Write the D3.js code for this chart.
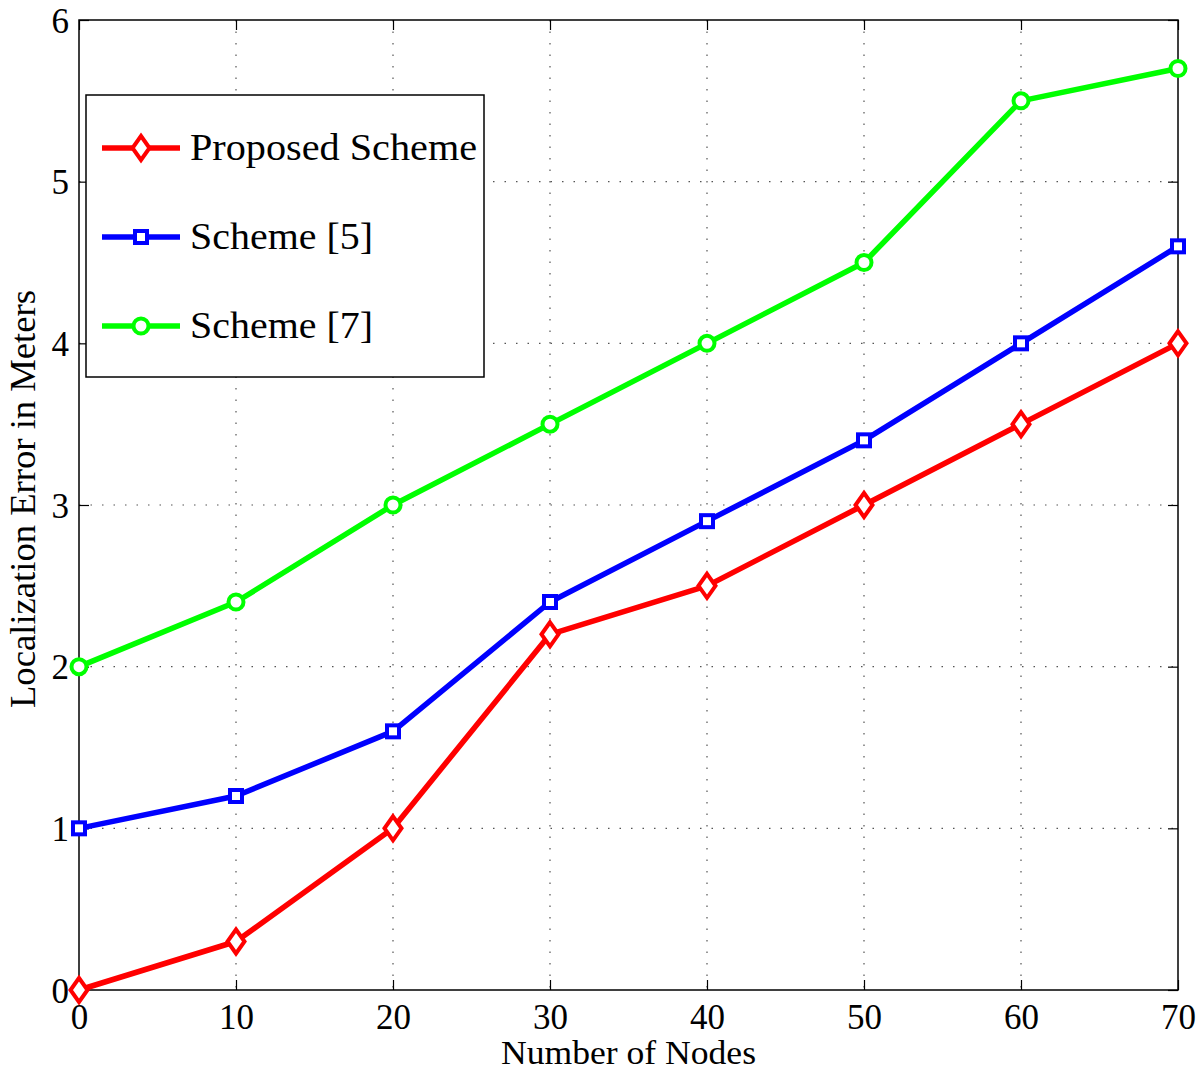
<!DOCTYPE html>
<html><head><meta charset="utf-8">
<script src="https://cdn.jsdelivr.net/npm/d3@7"></script>
<style>body{margin:0;background:#fff}svg{display:block}text{font-family:"Liberation Serif","DejaVu Serif",serif;fill:#000}</style>
</head><body>
<svg id="c" width="1200" height="1078"></svg>
<script>
const nodes=[0,10,20,30,40,50,60,70];
const proposed=[0,0.3,1,2.2,2.5,3,3.5,4];
const scheme5=[1,1.2,1.6,2.4,2.9,3.4,4,4.6];
const scheme7=[2,2.4,3,3.5,4,4.5,5.5,5.7];
const xTicks=[0,10,20,30,40,50,60,70];
const yTicks=[0,1,2,3,4,5,6];
const seriesNames=["Proposed Scheme","Scheme [5]","Scheme [7]"];
const colors=["#ff0000","#0000ff","#00ff00"];
const markers=["diamond","square","circle"];

const L=79,T=20,R=1178,B=990;
const svg=d3.select("#c");
const x=d3.scaleLinear().domain([0,70]).range([L,R]);
const y=d3.scaleLinear().domain([0,6]).range([B,T]);

// grid
const g=svg.append("g");
g.selectAll(".gx").data(xTicks.slice(1,-1)).enter().append("line")
 .attr("x1",d=>x(d)).attr("x2",d=>x(d)).attr("y1",T).attr("y2",B)
 .attr("stroke","#555").attr("stroke-width",1.2).attr("stroke-dasharray","1.5,10");
g.selectAll(".gy").data(yTicks.slice(1,-1)).enter().append("line")
 .attr("y1",d=>y(d)).attr("y2",d=>y(d)).attr("x1",L).attr("x2",R)
 .attr("stroke","#555").attr("stroke-width",1.2).attr("stroke-dasharray","1.5,10");

// axes box
svg.append("rect").attr("x",L).attr("y",T).attr("width",R-L).attr("height",B-T)
 .attr("fill","none").attr("stroke","#000").attr("stroke-width",1.5);

const xAxis=d3.axisBottom(x).tickValues(xTicks).tickSize(-10).tickFormat(d3.format("d"));
const xa=svg.append("g").attr("transform",`translate(0,${B})`).call(xAxis);
xa.select(".domain").remove();
xa.selectAll("line").attr("stroke","#000").attr("stroke-width",1.2);
xa.selectAll("text").attr("font-size",35).attr("font-family","Liberation Serif").attr("y",39).attr("dy",0).attr("fill","#000");
const xaT=svg.append("g").attr("transform",`translate(0,${T})`).call(d3.axisTop(x).tickValues(xTicks).tickSize(-10).tickFormat(""));
xaT.select(".domain").remove();xaT.selectAll("line").attr("stroke","#000").attr("stroke-width",1.2);

const yAxis=d3.axisLeft(y).tickValues(yTicks).tickSize(-10).tickFormat(d3.format("d"));
const ya=svg.append("g").attr("transform",`translate(${L},0)`).call(yAxis);
ya.select(".domain").remove();
ya.selectAll("line").attr("stroke","#000").attr("stroke-width",1.2);
ya.selectAll("text").attr("font-size",35).attr("font-family","Liberation Serif").attr("x",-10).attr("dy",0).attr("y",12).attr("fill","#000");
const yaR=svg.append("g").attr("transform",`translate(${R},0)`).call(d3.axisRight(y).tickValues(yTicks).tickSize(-10).tickFormat(""));
yaR.select(".domain").remove();yaR.selectAll("line").attr("stroke","#000").attr("stroke-width",1.2);

svg.append("text").attr("x",(L+R)/2).attr("y",1064).attr("text-anchor","middle").attr("font-size",34)
 .attr("textLength",255).attr("lengthAdjust","spacingAndGlyphs").text("Number of Nodes");
svg.append("text").attr("transform",`translate(35,${499}) rotate(-90)`).attr("text-anchor","middle").attr("font-size",35)
 .attr("textLength",418).attr("lengthAdjust","spacingAndGlyphs").text("Localization Error in Meters");

const data=[proposed,scheme5,scheme7];
const line=d3.line().x((d,i)=>x(nodes[i])).y(d=>y(d));
function drawMarker(sel,type,color){
 if(type==="diamond") sel.append("path").attr("d","M0,-12L8.5,0L0,12L-8.5,0Z");
 else if(type==="square") sel.append("rect").attr("x",-6).attr("y",-6).attr("width",12).attr("height",12);
 else sel.append("circle").attr("r",7.5);
 sel.selectAll("path,rect,circle").attr("fill","#fff").attr("stroke",color).attr("stroke-width",4);
}
data.forEach((s,k)=>{
 svg.append("path").datum(s).attr("d",line).attr("fill","none").attr("stroke",colors[k]).attr("stroke-width",5.5).attr("stroke-linejoin","round");
 s.forEach((v,i)=>{
  const m=svg.append("g").attr("transform",`translate(${x(nodes[i])},${y(v)})`);
  drawMarker(m,markers[k],colors[k]);
 });
});

// legend
const lg=svg.append("g");
lg.append("rect").attr("x",86).attr("y",95).attr("width",398).attr("height",282).attr("fill","#fff").attr("stroke","#000").attr("stroke-width",1.5);
const rowsY=[148,237,326];
const legendLens=[287,183,183];
seriesNames.forEach((n,k)=>{
 lg.append("line").attr("x1",102).attr("x2",180).attr("y1",rowsY[k]).attr("y2",rowsY[k]).attr("stroke",colors[k]).attr("stroke-width",5.5);
 const m=lg.append("g").attr("transform",`translate(141,${rowsY[k]})`);
 drawMarker(m,markers[k],colors[k]);
 lg.append("text").attr("x",190).attr("y",rowsY[k]+12).attr("font-size",38)
  .attr("textLength",legendLens[k]).attr("lengthAdjust","spacingAndGlyphs").text(n);
});
</script></body></html>
